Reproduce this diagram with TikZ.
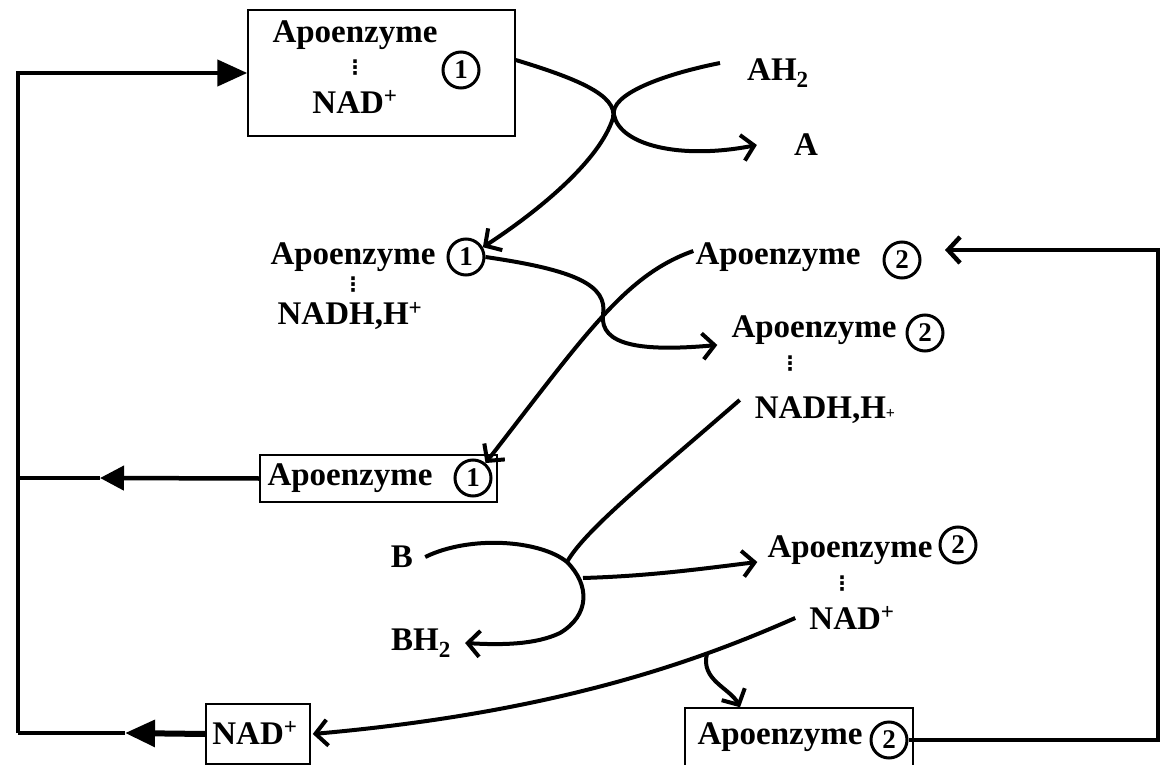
\documentclass[tikz,border=0pt]{standalone}
\usepackage{fontspec}
\setmainfont{Liberation Serif}
\newfontfamily\symfont{DejaVu Sans}
\usetikzlibrary{arrows.meta}

\tikzset{
  txt/.style={inner sep=0pt, font=\fontsize{33}{36}\selectfont\bfseries},
  vdot/.style={inner sep=0pt, font=\fontsize{20}{20}\symfont\bfseries},
  num/.style={circle, draw, line width=3pt, minimum size=36pt, inner sep=0pt, font=\fontsize{27}{27}\selectfont\bfseries},
  frame/.style={draw, line width=1.5pt, inner sep=0pt},
  flow/.style={line width=4pt, -{Straight Barb[length=12pt,width=26pt]}},
  ring/.style={line width=4.5pt},
  tri/.style={-{Triangle[length=30pt,width=26pt]}}
}

\begin{document}
\begin{tikzpicture}[x=1pt, y=-1pt]
    \useasboundingbox (0,0) rectangle (1168,765);
    \clip (0,0) rectangle (1168,765);

    \node[frame, minimum width=267pt, minimum height=126pt] (box1) at (381.5,73) {};
    \node[txt] (apoA) at (355,35) {Apoenzyme};
    \node[vdot] (dotsA) at (355,68) {⋮};
    \node[txt] (nadA) at (355,102) {NAD\textsuperscript{+}};
    \node[num] (c1a) at (461,70) {1};

    \node[txt] (ah) at (778,73) {AH\textsubscript{2}};
    \node[txt] (aa) at (806,145) {A};

    \node[txt] (apoB) at (353,257) {Apoenzyme};
    \node[num] (c1b) at (466,257) {1};
    \node[vdot] (dotsB) at (353,285) {⋮};
    \node[txt] (nadhB) at (350,316) {NADH,H\textsuperscript{+}};

    \node[txt] (apoC) at (778,257) {Apoenzyme};
    \node[num] (c2c) at (902,260) {2};

    \node[txt] (apoD) at (814,330) {Apoenzyme};
    \node[num] (c2d) at (925,333) {2};
    \node[vdot] (dotsD) at (790,364) {⋮};
    \node[txt] (nadhD) at (825,410) {NADH,H{\fontsize{16}{16}\selectfont+}};

    \node[frame, minimum width=237pt, minimum height=47pt] (box2) at (378.5,478.5) {};
    \node[txt] (apoE) at (350,478) {Apoenzyme};
    \node[num] (c1e) at (473,478) {1};

    \node[txt] (bb) at (402,557) {B};
    \node[txt] (bh) at (421,643) {BH\textsubscript{2}};

    \node[txt] (apoF) at (850,550) {Apoenzyme};
    \node[num] (c2f) at (958,545) {2};
    \node[vdot] (dotsF) at (842,584) {⋮};
    \node[txt] (nadF) at (852,618) {NAD\textsuperscript{+}};

    \node[frame, minimum width=104pt, minimum height=60pt] (box6) at (258,734) {};
    \node[txt] (nadG) at (255,733) {NAD\textsuperscript{+}};

    \node[frame, minimum width=228pt, minimum height=82pt] (box7) at (799,749) {};
    \node[txt] (apoH) at (780,737) {Apoenzyme};
    \node[num] (c2g) at (889,740) {2};

    \coordinate (jB) at (567,562);
    \coordinate (jC) at (583,578);
    \coordinate (lt) at (18,73);
    \coordinate (lm) at (18,478);
    \coordinate (lb) at (18,733);
    \coordinate (am) at (100,478);
    \coordinate (ab) at (125,733);
    \coordinate (rt) at (1158,250);
    \coordinate (rtip) at (945,250);

    \draw[flow] ([yshift=13pt]box1.east) .. controls (575,78) and (618,95) .. (613,118) .. controls (600,160) and (540,210) .. (c1b.30);
    \draw[flow] ([xshift=-27pt,yshift=10pt]ah.west) .. controls (660,75) and (610,95) .. (614,115) .. controls (620,145) and (680,160) .. ([xshift=-37pt]aa.west);
    \draw[flow] (c1b.east) .. controls (575,270) and (608,285) .. (603,315) .. controls (600,345) and (640,352) .. ([xshift=-14pt,yshift=-15pt]apoD.west);
    \draw[flow] ([xshift=-2pt,yshift=6pt]apoC.west) .. controls (625,275) and (585,335) .. (c1e.50);
    \draw[line width=4pt] ([xshift=-15pt,yshift=10pt]nadhD.west) .. controls (650,478) and (585,530) .. (jB);
    \draw[flow] ([xshift=12pt]bb.east) .. controls (470,535) and (540,540) .. (jB) .. controls (590,585) and (590,615) .. (560,633) .. controls (535,645) and (500,645) .. ([xshift=14pt]bh.east);
    \draw[flow] (jC) .. controls (650,576) and (700,569) .. ([xshift=-10pt,yshift=-12pt]apoF.west);
    \draw[flow] ([xshift=-14pt]nadF.west) .. controls (700,660) and (560,712) .. ([xshift=2pt]box6.east) coordinate[pos=0.27] (br);
    \draw[flow] (br) .. controls (700,680) and (730,688) .. ([xshift=-59pt]box7.north);

    \draw[ring, -{Straight Barb[length=12pt,width=26pt]}] (c2g.east) -| (rt) -- (rtip);
    \draw[ring, tri] (lb) -- (lt) -- (box1.west);
    \draw[ring, -{Triangle[length=24pt,width=24pt]}] (box2.west) -- (am);
    \draw[ring] (am) -- (lm);
    \draw[line width=6pt, tri] (box6.west) -- (ab);
    \draw[ring] (ab) -- (lb);
\end{tikzpicture}
\end{document}
